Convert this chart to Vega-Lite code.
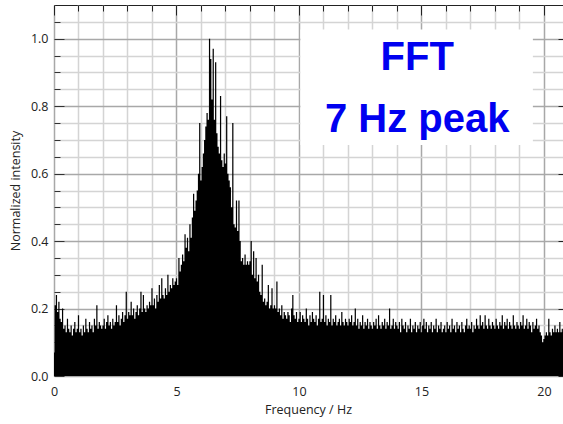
{
  "$schema": "https://vega.github.io/schema/vega-lite/v6.json",
  "width": 510,
  "height": 371,
  "autosize": {"type": "none"},
  "padding": {"left": 54, "top": 5, "right": 0, "bottom": 48},
  "background": "white",
  "config": {"view": {"stroke": "#222", "strokeWidth": 1}, "font": "Open Sans"},
  "datasets": {
    "spec": [
      {"f":0,"a":0.07},{"f":0.05,"a":0.21},{"f":0.1,"a":0.24},{"f":0.15,"a":0.19},{"f":0.2,"a":0.22},{"f":0.25,"a":0.17},{"f":0.3,"a":0.16},{"f":0.35,"a":0.2},{"f":0.4,"a":0.14},{"f":0.45,"a":0.15},{"f":0.5,"a":0.13},{"f":0.55,"a":0.17},{"f":0.6,"a":0.14},{"f":0.65,"a":0.13},{"f":0.7,"a":0.15},{"f":0.75,"a":0.12},{"f":0.8,"a":0.14},{"f":0.85,"a":0.16},{"f":0.9,"a":0.13},{"f":0.95,"a":0.14},
      {"f":1,"a":0.18},{"f":1.05,"a":0.13},{"f":1.1,"a":0.14},{"f":1.15,"a":0.12},{"f":1.2,"a":0.15},{"f":1.25,"a":0.13},{"f":1.3,"a":0.17},{"f":1.35,"a":0.14},{"f":1.4,"a":0.13},{"f":1.45,"a":0.16},{"f":1.5,"a":0.14},{"f":1.55,"a":0.15},{"f":1.6,"a":0.13},{"f":1.65,"a":0.17},{"f":1.7,"a":0.15},{"f":1.75,"a":0.21},{"f":1.8,"a":0.14},{"f":1.85,"a":0.16},{"f":1.9,"a":0.15},{"f":1.95,"a":0.14},
      {"f":2,"a":0.15},{"f":2.05,"a":0.17},{"f":2.1,"a":0.14},{"f":2.15,"a":0.16},{"f":2.2,"a":0.18},{"f":2.25,"a":0.15},{"f":2.3,"a":0.16},{"f":2.35,"a":0.14},{"f":2.4,"a":0.17},{"f":2.45,"a":0.15},{"f":2.5,"a":0.16},{"f":2.55,"a":0.21},{"f":2.6,"a":0.16},{"f":2.65,"a":0.18},{"f":2.7,"a":0.15},{"f":2.75,"a":0.17},{"f":2.8,"a":0.19},{"f":2.85,"a":0.16},{"f":2.9,"a":0.18},{"f":2.95,"a":0.25},
      {"f":3,"a":0.17},{"f":3.05,"a":0.19},{"f":3.1,"a":0.18},{"f":3.15,"a":0.22},{"f":3.2,"a":0.18},{"f":3.25,"a":0.2},{"f":3.3,"a":0.17},{"f":3.35,"a":0.19},{"f":3.4,"a":0.21},{"f":3.45,"a":0.18},{"f":3.5,"a":0.2},{"f":3.55,"a":0.25},{"f":3.6,"a":0.19},{"f":3.65,"a":0.24},{"f":3.7,"a":0.2},{"f":3.75,"a":0.19},{"f":3.8,"a":0.21},{"f":3.85,"a":0.2},{"f":3.9,"a":0.22},{"f":3.95,"a":0.21},
      {"f":4,"a":0.26},{"f":4.05,"a":0.21},{"f":4.1,"a":0.23},{"f":4.15,"a":0.2},{"f":4.2,"a":0.24},{"f":4.25,"a":0.22},{"f":4.3,"a":0.27},{"f":4.35,"a":0.23},{"f":4.4,"a":0.29},{"f":4.45,"a":0.24},{"f":4.5,"a":0.23},{"f":4.55,"a":0.26},{"f":4.6,"a":0.24},{"f":4.65,"a":0.3},{"f":4.7,"a":0.25},{"f":4.75,"a":0.27},{"f":4.8,"a":0.26},{"f":4.85,"a":0.29},{"f":4.9,"a":0.27},{"f":4.95,"a":0.28},
      {"f":5,"a":0.29},{"f":5.05,"a":0.27},{"f":5.1,"a":0.35},{"f":5.15,"a":0.31},{"f":5.2,"a":0.33},{"f":5.25,"a":0.36},{"f":5.3,"a":0.34},{"f":5.35,"a":0.42},{"f":5.4,"a":0.38},{"f":5.45,"a":0.41},{"f":5.5,"a":0.37},{"f":5.55,"a":0.45},{"f":5.6,"a":0.41},{"f":5.65,"a":0.47},{"f":5.7,"a":0.54},{"f":5.75,"a":0.49},{"f":5.8,"a":0.52},{"f":5.85,"a":0.55},{"f":5.9,"a":0.6},{"f":5.95,"a":0.75},
      {"f":6,"a":0.58},{"f":6.05,"a":0.62},{"f":6.1,"a":0.66},{"f":6.15,"a":0.7},{"f":6.2,"a":0.74},{"f":6.25,"a":0.78},{"f":6.3,"a":0.76},{"f":6.35,"a":1.0},{"f":6.4,"a":0.94},{"f":6.45,"a":0.82},{"f":6.5,"a":0.97},{"f":6.55,"a":0.76},{"f":6.6,"a":0.93},{"f":6.65,"a":0.72},{"f":6.7,"a":0.68},{"f":6.75,"a":0.66},{"f":6.8,"a":0.83},{"f":6.85,"a":0.64},{"f":6.9,"a":0.62},{"f":6.95,"a":0.66},
      {"f":7,"a":0.63},{"f":7.05,"a":0.77},{"f":7.1,"a":0.6},{"f":7.15,"a":0.58},{"f":7.2,"a":0.56},{"f":7.25,"a":0.5},{"f":7.3,"a":0.75},{"f":7.35,"a":0.45},{"f":7.4,"a":0.44},{"f":7.45,"a":0.52},{"f":7.5,"a":0.43},{"f":7.55,"a":0.52},{"f":7.6,"a":0.4},{"f":7.65,"a":0.34},{"f":7.7,"a":0.35},{"f":7.75,"a":0.33},{"f":7.8,"a":0.36},{"f":7.85,"a":0.33},{"f":7.9,"a":0.34},{"f":7.95,"a":0.33},
      {"f":8,"a":0.34},{"f":8.05,"a":0.4},{"f":8.1,"a":0.3},{"f":8.15,"a":0.37},{"f":8.2,"a":0.29},{"f":8.25,"a":0.35},{"f":8.3,"a":0.28},{"f":8.35,"a":0.3},{"f":8.4,"a":0.25},{"f":8.45,"a":0.24},{"f":8.5,"a":0.33},{"f":8.55,"a":0.22},{"f":8.6,"a":0.23},{"f":8.65,"a":0.21},{"f":8.7,"a":0.22},{"f":8.75,"a":0.27},{"f":8.8,"a":0.2},{"f":8.85,"a":0.21},{"f":8.9,"a":0.26},{"f":8.95,"a":0.2},
      {"f":9,"a":0.21},{"f":9.05,"a":0.2},{"f":9.1,"a":0.28},{"f":9.15,"a":0.19},{"f":9.2,"a":0.2},{"f":9.25,"a":0.18},{"f":9.3,"a":0.21},{"f":9.35,"a":0.17},{"f":9.4,"a":0.19},{"f":9.45,"a":0.18},{"f":9.5,"a":0.17},{"f":9.55,"a":0.19},{"f":9.6,"a":0.18},{"f":9.65,"a":0.16},{"f":9.7,"a":0.2},{"f":9.75,"a":0.24},{"f":9.8,"a":0.18},{"f":9.85,"a":0.17},{"f":9.9,"a":0.19},{"f":9.95,"a":0.16},
      {"f":10,"a":0.17},{"f":10.05,"a":0.19},{"f":10.1,"a":0.16},{"f":10.15,"a":0.18},{"f":10.2,"a":0.17},{"f":10.25,"a":0.16},{"f":10.3,"a":0.2},{"f":10.35,"a":0.17},{"f":10.4,"a":0.15},{"f":10.45,"a":0.18},{"f":10.5,"a":0.16},{"f":10.55,"a":0.19},{"f":10.6,"a":0.17},{"f":10.65,"a":0.16},{"f":10.7,"a":0.18},{"f":10.75,"a":0.15},{"f":10.8,"a":0.17},{"f":10.85,"a":0.25},{"f":10.9,"a":0.16},{"f":10.95,"a":0.17},
      {"f":11,"a":0.24},{"f":11.05,"a":0.16},{"f":11.1,"a":0.18},{"f":11.15,"a":0.15},{"f":11.2,"a":0.17},{"f":11.25,"a":0.16},{"f":11.3,"a":0.24},{"f":11.35,"a":0.15},{"f":11.4,"a":0.17},{"f":11.45,"a":0.16},{"f":11.5,"a":0.18},{"f":11.55,"a":0.15},{"f":11.6,"a":0.16},{"f":11.65,"a":0.17},{"f":11.7,"a":0.15},{"f":11.75,"a":0.19},{"f":11.8,"a":0.16},{"f":11.85,"a":0.15},{"f":11.9,"a":0.17},{"f":11.95,"a":0.16},
      {"f":12,"a":0.15},{"f":12.05,"a":0.17},{"f":12.1,"a":0.16},{"f":12.15,"a":0.18},{"f":12.2,"a":0.15},{"f":12.25,"a":0.16},{"f":12.3,"a":0.2},{"f":12.35,"a":0.15},{"f":12.4,"a":0.17},{"f":12.45,"a":0.14},{"f":12.5,"a":0.16},{"f":12.55,"a":0.15},{"f":12.6,"a":0.18},{"f":12.65,"a":0.14},{"f":12.7,"a":0.16},{"f":12.75,"a":0.15},{"f":12.8,"a":0.17},{"f":12.85,"a":0.14},{"f":12.9,"a":0.16},{"f":12.95,"a":0.15},
      {"f":13,"a":0.14},{"f":13.05,"a":0.16},{"f":13.1,"a":0.15},{"f":13.15,"a":0.17},{"f":13.2,"a":0.14},{"f":13.25,"a":0.18},{"f":13.3,"a":0.15},{"f":13.35,"a":0.14},{"f":13.4,"a":0.16},{"f":13.45,"a":0.15},{"f":13.5,"a":0.17},{"f":13.55,"a":0.14},{"f":13.6,"a":0.16},{"f":13.65,"a":0.15},{"f":13.7,"a":0.2},{"f":13.75,"a":0.14},{"f":13.8,"a":0.15},{"f":13.85,"a":0.17},{"f":13.9,"a":0.14},{"f":13.95,"a":0.16},
      {"f":14,"a":0.15},{"f":14.05,"a":0.14},{"f":14.1,"a":0.16},{"f":14.15,"a":0.13},{"f":14.2,"a":0.17},{"f":14.25,"a":0.15},{"f":14.3,"a":0.14},{"f":14.35,"a":0.16},{"f":14.4,"a":0.13},{"f":14.45,"a":0.15},{"f":14.5,"a":0.14},{"f":14.55,"a":0.17},{"f":14.6,"a":0.13},{"f":14.65,"a":0.15},{"f":14.7,"a":0.14},{"f":14.75,"a":0.16},{"f":14.8,"a":0.13},{"f":14.85,"a":0.15},{"f":14.9,"a":0.14},{"f":14.95,"a":0.16},
      {"f":15,"a":0.13},{"f":15.05,"a":0.15},{"f":15.1,"a":0.17},{"f":15.15,"a":0.14},{"f":15.2,"a":0.16},{"f":15.25,"a":0.13},{"f":15.3,"a":0.15},{"f":15.35,"a":0.14},{"f":15.4,"a":0.16},{"f":15.45,"a":0.13},{"f":15.5,"a":0.15},{"f":15.55,"a":0.14},{"f":15.6,"a":0.17},{"f":15.65,"a":0.13},{"f":15.7,"a":0.15},{"f":15.75,"a":0.14},{"f":15.8,"a":0.16},{"f":15.85,"a":0.13},{"f":15.9,"a":0.14},{"f":15.95,"a":0.15},
      {"f":16,"a":0.13},{"f":16.05,"a":0.16},{"f":16.1,"a":0.14},{"f":16.15,"a":0.15},{"f":16.2,"a":0.13},{"f":16.25,"a":0.17},{"f":16.3,"a":0.14},{"f":16.35,"a":0.15},{"f":16.4,"a":0.13},{"f":16.45,"a":0.16},{"f":16.5,"a":0.14},{"f":16.55,"a":0.15},{"f":16.6,"a":0.13},{"f":16.65,"a":0.16},{"f":16.7,"a":0.14},{"f":16.75,"a":0.13},{"f":16.8,"a":0.15},{"f":16.85,"a":0.17},{"f":16.9,"a":0.14},{"f":16.95,"a":0.15},
      {"f":17,"a":0.14},{"f":17.05,"a":0.16},{"f":17.1,"a":0.13},{"f":17.15,"a":0.15},{"f":17.2,"a":0.14},{"f":17.25,"a":0.17},{"f":17.3,"a":0.15},{"f":17.35,"a":0.14},{"f":17.4,"a":0.18},{"f":17.45,"a":0.15},{"f":17.5,"a":0.16},{"f":17.55,"a":0.14},{"f":17.6,"a":0.18},{"f":17.65,"a":0.15},{"f":17.7,"a":0.14},{"f":17.75,"a":0.17},{"f":17.8,"a":0.15},{"f":17.85,"a":0.14},{"f":17.9,"a":0.16},{"f":17.95,"a":0.15},
      {"f":18,"a":0.14},{"f":18.05,"a":0.17},{"f":18.1,"a":0.15},{"f":18.15,"a":0.14},{"f":18.2,"a":0.16},{"f":18.25,"a":0.15},{"f":18.3,"a":0.18},{"f":18.35,"a":0.14},{"f":18.4,"a":0.16},{"f":18.45,"a":0.15},{"f":18.5,"a":0.17},{"f":18.55,"a":0.14},{"f":18.6,"a":0.16},{"f":18.65,"a":0.15},{"f":18.7,"a":0.14},{"f":18.75,"a":0.18},{"f":18.8,"a":0.15},{"f":18.85,"a":0.14},{"f":18.9,"a":0.16},{"f":18.95,"a":0.15},
      {"f":19,"a":0.14},{"f":19.05,"a":0.16},{"f":19.1,"a":0.15},{"f":19.15,"a":0.18},{"f":19.2,"a":0.14},{"f":19.25,"a":0.15},{"f":19.3,"a":0.17},{"f":19.35,"a":0.14},{"f":19.4,"a":0.16},{"f":19.45,"a":0.15},{"f":19.5,"a":0.13},{"f":19.55,"a":0.16},{"f":19.6,"a":0.14},{"f":19.65,"a":0.15},{"f":19.7,"a":0.17},{"f":19.75,"a":0.14},{"f":19.8,"a":0.15},{"f":19.85,"a":0.13},{"f":19.9,"a":0.12},{"f":19.95,"a":0.1},
      {"f":20,"a":0.11},{"f":20.05,"a":0.12},{"f":20.1,"a":0.13},{"f":20.15,"a":0.12},{"f":20.2,"a":0.17},{"f":20.25,"a":0.13},{"f":20.3,"a":0.12},{"f":20.35,"a":0.14},{"f":20.4,"a":0.13},{"f":20.45,"a":0.15},{"f":20.5,"a":0.13},{"f":20.55,"a":0.14},{"f":20.6,"a":0.13},{"f":20.65,"a":0.16},{"f":20.7,"a":0.13},{"f":20.75,"a":0.14},{"f":20.8,"a":0.13},{"f":20.85,"a":0.15}
    ],
    "box": [{"x1": 10.06, "x2": 19.55, "y1": 0.685, "y2": 1.027}],
    "txt": [{"x": 14.83, "y": 0.908, "t": "FFT"}, {"x": 14.83, "y": 0.724, "t": "7 Hz peak"}]
  },
  "layer": [
    {
      "data": {"name": "spec"},
      "mark": {"type": "area", "interpolate": "step", "color": "black", "clip": true},
      "encoding": {
        "x": {
          "field": "f", "type": "quantitative",
          "scale": {"domain": [0, 20.82], "nice": false, "zero": false},
          "axis": {
            "orient": "bottom",
            "title": "Frequency / Hz",
            "values": [0,1,2,3,4,5,6,7,8,9,10,11,12,13,14,15,16,17,18,19,20],
            "labelExpr": "datum.value % 5 === 0 ? datum.label : ''",
            "domain": false,
            "ticks": false,
            "grid": true,
            "gridColor": {"condition": {"test": "datum.value % 5 === 0", "value": "#a8a8a8"}, "value": "#d4d4d4"},
            "gridWidth": 1.5,
            "labelFontSize": 12.5,
            "labelColor": "#222",
            "labelPadding": 9,
            "labelFlush": false,
            "titleFontSize": 12.5,
            "titleFontWeight": "normal",
            "titleColor": "#222",
            "titlePadding": 6,
            "titleX": 254
          }
        },
        "y": {
          "field": "a", "type": "quantitative",
          "scale": {"domain": [0, 1.1], "nice": false},
          "axis": {
            "orient": "left",
            "title": "Normalized intensity",
            "values": [0,0.05,0.1,0.15,0.2,0.25,0.3,0.35,0.4,0.45,0.5,0.55,0.6,0.65,0.7,0.75,0.8,0.85,0.9,0.95,1.0,1.05],
            "labelExpr": "round(datum.value*100) % 20 === 0 ? format(datum.value, '.1f') : ''",
            "domain": false,
            "ticks": false,
            "grid": true,
            "gridColor": {"condition": {"test": "round(datum.value*100) % 20 === 0", "value": "#a8a8a8"}, "value": "#d4d4d4"},
            "gridWidth": 1.5,
            "labelFontSize": 12.5,
            "labelColor": "#222",
            "labelPadding": 6,
            "labelFlush": false,
            "titleFontSize": 12.5,
            "titleFontWeight": "normal",
            "titleColor": "#222",
            "titlePadding": 8
          }
        }
      }
    },
    {
      "data": {"name": "box"},
      "mark": {"type": "rect", "fill": "white"},
      "encoding": {
        "x": {
          "field": "x1", "type": "quantitative",
          "axis": {
            "orient": "top", "title": null, "labels": false, "domain": false, "grid": false,
            "values": [0,1,2,3,4,5,6,7,8,9,10,11,12,13,14,15,16,17,18,19,20],
            "ticks": true,
            "tickColor": "#222",
            "tickSize": {"condition": {"test": "datum.value % 5 === 0", "value": -10}, "value": -6}
          }
        },
        "x2": {"field": "x2"},
        "y": {
          "field": "y1", "type": "quantitative",
          "axis": {
            "orient": "right", "title": null, "labels": false, "domain": false, "grid": false,
            "values": [0,0.2,0.4,0.6,0.8,1.0],
            "ticks": true,
            "tickColor": "#222",
            "tickSize": -6
          }
        },
        "y2": {"field": "y2"}
      }
    },
    {
      "data": {"name": "txt"},
      "mark": {"type": "text", "fontSize": 40, "fontWeight": "bold", "font": "Liberation Sans", "color": "#0000f0", "baseline": "alphabetic", "align": "center"},
      "encoding": {
        "x": {"field": "x", "type": "quantitative", "axis": null},
        "y": {
          "field": "y", "type": "quantitative",
          "axis": {
            "orient": "left", "title": null, "labels": false, "domain": false, "grid": false,
            "values": [0,0.05,0.1,0.15,0.2,0.25,0.3,0.35,0.4,0.45,0.5,0.55,0.6,0.65,0.7,0.75,0.8,0.85,0.9,0.95,1.0,1.05],
            "ticks": true,
            "tickColor": "#333",
            "tickSize": {"condition": {"test": "round(datum.value*100) % 20 === 0", "value": -10}, "value": -6}
          }
        },
        "text": {"field": "t"}
      }
    }
  ],
  "resolve": {"axis": {"x": "independent", "y": "independent"}}
}
